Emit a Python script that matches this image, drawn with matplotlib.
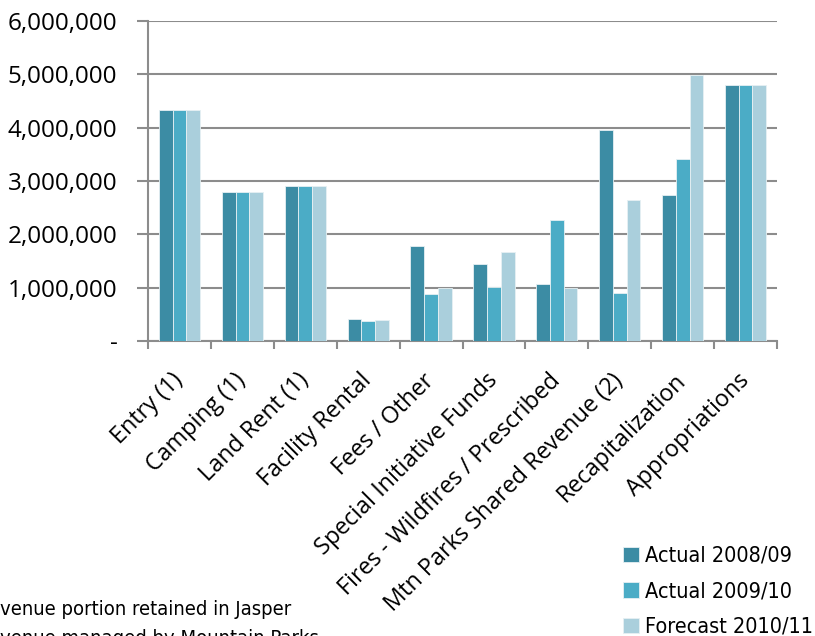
import matplotlib
matplotlib.use('Agg')
import matplotlib.pyplot as plt
import numpy as np
from matplotlib.ticker import FuncFormatter, FixedLocator


categories = ['Entry (1)', 'Camping (1)', 'Land Rent (1)', 'Facility Rental', 'Fees / Other',
              'Special Initiative Funds', 'Fires - Wildfires / Prescribed',
              'Mtn Parks Shared Revenue (2)', 'Recapitalization', 'Appropriations']
actual_0809 = [4340000, 2790000, 2910000, 420000, 1780000, 1440000, 1070000, 3960000, 2740000, 4800000]
actual_0910 = [4340000, 2790000, 2910000, 380000, 890000, 1010000, 2270000, 900000, 3410000, 4800000]
forecast_1011 = [4340000, 2790000, 2910000, 390000, 1000000, 1660000, 1000000, 2650000, 4980000, 4800000]
series_names = ['Actual 2008/09', 'Actual 2009/10', 'Forecast 2010/11']
footnotes = ['(1) Revenue portion retained in Jasper', '(2) Revenue managed by Mountain Parks']

colors = ['#3c8ca4', '#4bacc6', '#aacfdc']
label_font = ['Open Sans', 'DejaVu Sans']

fig = plt.figure(figsize=(8.15, 6.36), dpi=100)
ax = fig.add_axes([0.1816, 0.4638, 0.7718, 0.5032])

x = np.arange(len(categories))
w = 0.218
for i, vals in enumerate([actual_0809, actual_0910, forecast_1011]):
    ax.bar(x + (i - 1) * w, vals, width=w, color=colors[i], edgecolor='#e6f0f3',
           linewidth=0.6, label=series_names[i], zorder=3)

ax.set_xlim(-0.5, len(categories) - 0.5)
ax.set_ylim(0, 6000000)
ax.set_yticks(np.arange(0, 6000001, 1000000))
ax.yaxis.set_major_formatter(FuncFormatter(lambda v, p: '-' if v == 0 else f'{int(v):,}'))
ax.grid(axis='y', color='#8c8c8c', linewidth=1.5, zorder=0)
ax.tick_params(axis='y', length=8, width=1.5, color='#8c8c8c', pad=14, labelsize=17.5)

ax.set_xticks(x)
ax.set_xticklabels(categories, rotation=45, ha='right', va='center', rotation_mode='anchor', fontsize=16.8)
ax.tick_params(axis='x', which='major', length=0, pad=26)
ax.xaxis.set_minor_locator(FixedLocator(np.arange(-0.5, len(categories), 1)))
ax.tick_params(axis='x', which='minor', length=6, width=1.5, color='#8c8c8c')

for lab in ax.get_yticklabels() + ax.get_xticklabels():
    lab.set_family(label_font)

for s in ['top', 'right']:
    ax.spines[s].set_visible(False)
for s in ['left', 'bottom']:
    ax.spines[s].set_color('#8c8c8c')
    ax.spines[s].set_linewidth(1.5)

leg = fig.legend(loc='upper left', bbox_to_anchor=(0.741, 0.172), frameon=False,
                 handlelength=0.75, handleheight=0.75, handletextpad=0.25, labelspacing=0.72,
                 prop={'family': 'DejaVu Sans', 'stretch': 'condensed', 'size': 15.5})

fig.text(-0.066, 0.033, footnotes[0], family='DejaVu Sans', stretch='condensed', fontsize=14.5, va='baseline')
fig.text(-0.066, -0.012, footnotes[1], family='DejaVu Sans', stretch='condensed', fontsize=14.5, va='baseline')

fig.savefig('out.png', dpi=100)
